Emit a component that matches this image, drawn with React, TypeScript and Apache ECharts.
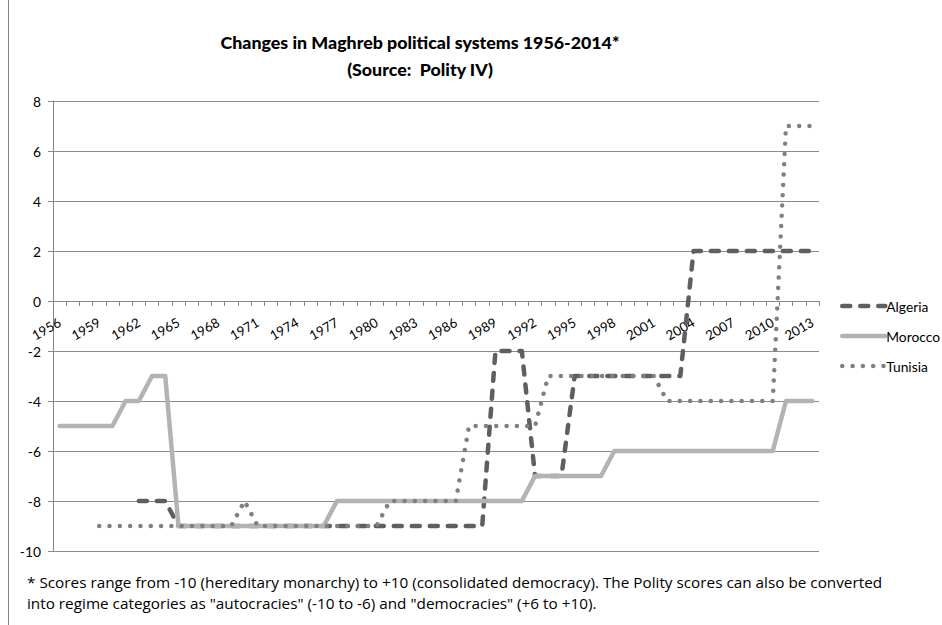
import React, { useEffect, useRef } from "react";
import * as echarts from "echarts";

const years = [
  "1956", "1957", "1958", "1959", "1960", "1961", "1962", "1963", "1964", "1965",
  "1966", "1967", "1968", "1969", "1970", "1971", "1972", "1973", "1974", "1975",
  "1976", "1977", "1978", "1979", "1980", "1981", "1982", "1983", "1984", "1985",
  "1986", "1987", "1988", "1989", "1990", "1991", "1992", "1993", "1994", "1995",
  "1996", "1997", "1998", "1999", "2000", "2001", "2002", "2003", "2004", "2005",
  "2006", "2007", "2008", "2009", "2010", "2011", "2012", "2013",
];

const algeria = [
  null, null, null, null, null, null, -8, -8, -8, -9,
  -9, -9, -9, -9, -9, -9, -9, -9, -9, -9,
  -9, -9, -9, -9, -9, -9, -9, -9, -9, -9,
  -9, -9, -9, -2, -2, -2, -7, -7, -7, -3,
  -3, -3, -3, -3, -3, -3, -3, -3, 2, 2,
  2, 2, 2, 2, 2, 2, 2, 2,
];

const morocco = [
  -5, -5, -5, -5, -5, -4, -4, -3, -3, -9,
  -9, -9, -9, -9, -9, -9, -9, -9, -9, -9,
  -9, -8, -8, -8, -8, -8, -8, -8, -8, -8,
  -8, -8, -8, -8, -8, -8, -7, -7, -7, -7,
  -7, -7, -6, -6, -6, -6, -6, -6, -6, -6,
  -6, -6, -6, -6, -6, -4, -4, -4,
];

const tunisia = [
  null, null, null, -9, -9, -9, -9, -9, -9, -9,
  -9, -9, -9, -9, -8, -9, -9, -9, -9, -9,
  -9, -9, -9, -9, -9, -8, -8, -8, -8, -8,
  -8, -5, -5, -5, -5, -5, -5, -3, -3, -3,
  -3, -3, -3, -3, -3, -3, -4, -4, -4, -4,
  -4, -4, -4, -4, -4, 7, 7, 7,
];

const titleLines = ["Changes in Maghreb political systems 1956-2014*", "(Source:  Polity IV)"];
const footnoteLines = [
  "* Scores range from -10 (hereditary monarchy) to +10 (consolidated democracy). The Polity scores can also be converted",
  "into regime categories as \"autocracies\" (-10 to -6) and \"democracies\" (+6 to +10).",
];

const FONT = "Lato, 'Open Sans', sans-serif";
const NOTE_FONT = "'Open Sans', Lato, sans-serif";

export default function App() {
  const ref = useRef<HTMLDivElement>(null);
  useEffect(() => {
    if (!ref.current) return;
    const chart = echarts.init(ref.current, undefined, { renderer: "svg" });
    chart.setOption({
      animation: false,
      backgroundColor: "#ffffff",
      textStyle: { fontFamily: FONT },
      title: {
        text: titleLines.join("\n"),
        left: 415,
        top: 23,
        textAlign: "center",
        textStyle: { fontFamily: FONT, fontSize: 17.8, fontWeight: 900, color: "#000000", lineHeight: 27, align: "center" },
      },
      legend: {
        orient: "vertical",
        left: 840,
        top: 299,
        itemWidth: 43,
        itemHeight: 14,
        itemGap: 16,
        padding: 0,
        itemStyle: { opacity: 0 },
        lineStyle: { width: 4.5 },
        textStyle: { fontFamily: FONT, fontSize: 13.8, color: "#000000", padding: [0, 0, 0, -4] },
        data: ["Algeria", "Morocco", "Tunisia"],
      },
      grid: { left: 53, right: 123, top: 101, bottom: 74, containLabel: false },
      xAxis: {
        type: "category",
        data: years,
        boundaryGap: true,
        offset: -250,
        axisLine: { onZero: false, lineStyle: { color: "#868686", width: 1 } },
        axisTick: { show: true, interval: 0, length: 5, lineStyle: { color: "#868686" } },
        axisLabel: { interval: 2, rotate: 30, margin: 20, fontFamily: FONT, fontSize: 13.3, color: "#000000" },
        splitLine: { show: false },
      },
      yAxis: {
        type: "value",
        min: -10,
        max: 8,
        interval: 2,
        axisLine: { show: true, lineStyle: { color: "#868686" } },
        axisTick: { show: true, length: 5, lineStyle: { color: "#868686" } },
        axisLabel: { fontFamily: FONT, fontSize: 13.8, color: "#000000", margin: 12 },
        splitLine: { show: true, lineStyle: { color: "#8c8c8c", width: 1 } },
      },
      series: [
        {
          name: "Algeria",
          type: "line",
          data: algeria,
          symbol: "none",
          connectNulls: false,
          color: "#5f5f5f",
          lineStyle: { color: "#5f5f5f", width: 4.5, type: [8, 10], cap: "round", join: "round" },
        },
        {
          name: "Morocco",
          type: "line",
          data: morocco,
          symbol: "none",
          color: "#b3b3b3",
          lineStyle: { color: "#b3b3b3", width: 4.5, type: "solid", cap: "round", join: "round" },
        },
        {
          name: "Tunisia",
          type: "line",
          data: tunisia,
          symbol: "none",
          color: "#808080",
          lineStyle: { color: "#808080", width: 4.5, type: [0.01, 10.3], cap: "round", join: "round" },
        },
      ],
      graphic: [
        { type: "line", shape: { x1: 8.5, y1: 0, x2: 8.5, y2: 625 }, style: { stroke: "#868686", lineWidth: 1 } },
        {
          type: "text",
          left: 27,
          top: 574,
          style: { text: footnoteLines[0], fontFamily: NOTE_FONT, fontSize: 15.3, fill: "#000000" },
        },
        {
          type: "text",
          left: 27,
          top: 595,
          style: { text: footnoteLines[1], fontFamily: NOTE_FONT, fontSize: 15.3, fill: "#000000" },
        },
      ],
    });
    return () => chart.dispose();
  }, []);
  return <div ref={ref} style={{ position: "absolute", left: 0, top: 0, width: 942, height: 625 }} />;
}
